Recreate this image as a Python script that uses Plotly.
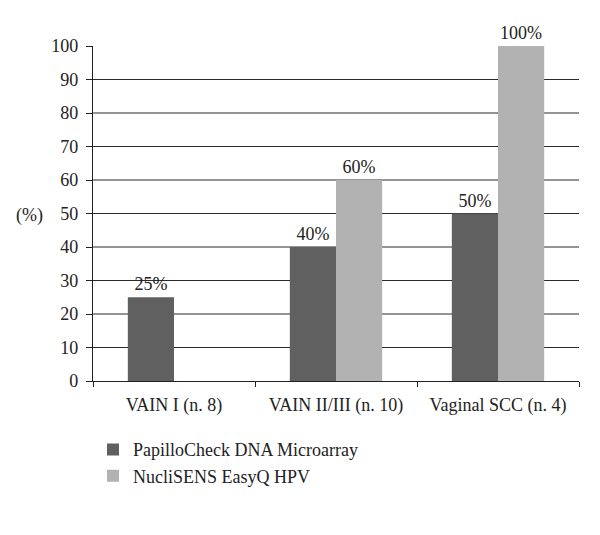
import plotly.graph_objects as go

categories = ["VAIN I (n. 8)", "VAIN II/III (n. 10)", "Vaginal SCC (n. 4)"]
papillocheck = [25, 40, 50]
nuclisens = [0, 60, 100]
series_names = ["PapilloCheck DNA Microarray", "NucliSENS EasyQ HPV"]
y_ticks = [0, 10, 20, 30, 40, 50, 60, 70, 80, 90, 100]
grid_values = [10, 20, 30, 40, 50, 60, 70, 80, 90]

FONT = "Liberation Serif"
FS = 18

def labels(vals):
    return [f"{v}%" if v > 0 else "" for v in vals]

fig = go.Figure()
fig.add_trace(go.Bar(x=categories, y=papillocheck, name=series_names[0],
                     marker=dict(color="#606060", line=dict(width=0)),
                     text=labels(papillocheck), textposition="outside",
                     textfont=dict(family=FONT, size=FS, color="#222"),
                     cliponaxis=False))
fig.add_trace(go.Bar(x=categories, y=nuclisens, name=series_names[1],
                     marker=dict(color="#b2b2b2", line=dict(width=0)),
                     text=labels(nuclisens), textposition="outside",
                     textfont=dict(family=FONT, size=FS, color="#222"),
                     cliponaxis=False))

for g in grid_values:
    fig.add_shape(type="line", xref="paper", yref="y", x0=0, x1=1, y0=g, y1=g,
                  line=dict(color="#2a2a2a", width=1.2), layer="below")

fig.add_annotation(text="(%)", xref="paper", yref="paper", x=-0.13, y=0.495,
                   xanchor="center", yanchor="middle",
                   showarrow=False, font=dict(family=FONT, size=FS, color="#222"))

fig.update_layout(
    width=592, height=527,
    margin=dict(l=85, r=21, t=38, b=154),
    paper_bgcolor="white", plot_bgcolor="white",
    barmode="group", bargap=0.43, bargroupgap=0,
    font=dict(family=FONT, size=FS, color="#222"),
    showlegend=True,
    legend=dict(orientation="v", x=0.0, y=-0.15, xanchor="left", yanchor="top",
                font=dict(family=FONT, size=FS, color="#222"),
                tracegroupgap=0, itemsizing="constant"),
    xaxis=dict(showline=True, linecolor="#222", linewidth=1.3, ticks="outside",
               tickson="boundaries", ticklen=5, tickcolor="#222", showgrid=False,
               ticklabelstandoff=7,
               tickfont=dict(family=FONT, size=FS, color="#222")),
    yaxis=dict(range=[0, 100], tickvals=y_ticks, showline=True, linecolor="#222",
               linewidth=1.3, ticks="outside", ticklen=6, tickcolor="#222",
               showgrid=False, zeroline=False, ticklabelstandoff=4,
               tickfont=dict(family=FONT, size=FS, color="#222")),
)

fig.write_html("out.html")
